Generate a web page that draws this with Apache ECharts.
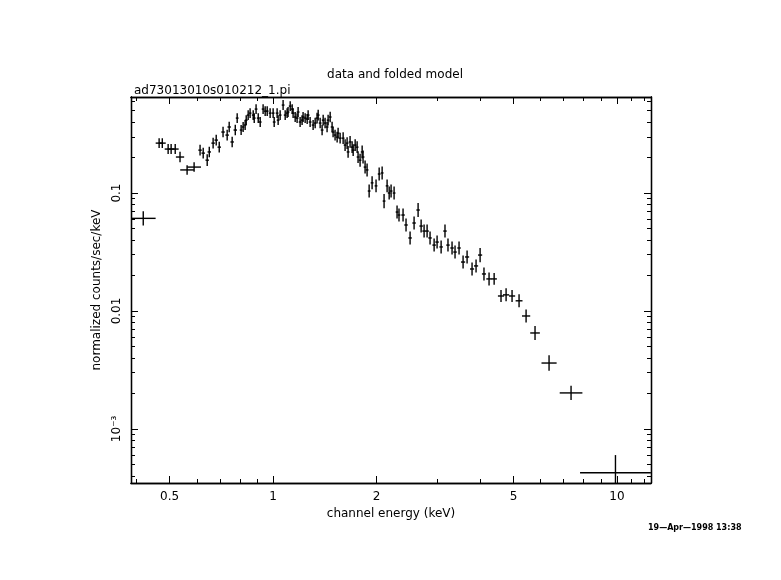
<!DOCTYPE html>
<html>
<head>
<meta charset="utf-8">
<script src="https://cdn.jsdelivr.net/npm/echarts@6/dist/echarts.min.js"></script>
<style>
  html, body { margin: 0; padding: 0; background: #fff; }
  #chart { width: 781px; height: 580px; }
</style>
</head>
<body>
<div id="chart"></div>
<script>
// channel energy (keV) and normalized counts/sec/keV
var energy = [0.419, 0.466, 0.476, 0.495, 0.505, 0.519, 0.536, 0.562, 0.589, 0.613,
  0.626, 0.643, 0.652, 0.669, 0.683, 0.697, 0.715, 0.735, 0.745, 0.760,
  0.776, 0.786, 0.807, 0.818, 0.829, 0.835, 0.846, 0.857, 0.875, 0.881,
  0.892, 0.905, 0.917, 0.935, 0.948, 0.961, 0.980, 1.000, 1.007, 1.027,
  1.034, 1.048, 1.069, 1.084, 1.098, 1.105, 1.121, 1.136, 1.143, 1.159,
  1.174, 1.182, 1.198, 1.214, 1.222, 1.239, 1.256, 1.264, 1.281, 1.307,
  1.325, 1.342, 1.352, 1.370, 1.388, 1.398, 1.416, 1.435, 1.445, 1.465,
  1.484, 1.494, 1.514, 1.535, 1.545, 1.566, 1.598, 1.619, 1.641, 1.652,
  1.674, 1.697, 1.709, 1.732, 1.755, 1.766, 1.790, 1.815, 1.826, 1.851,
  1.876, 1.902, 1.940, 1.992, 2.034, 2.075, 2.102, 2.145, 2.175, 2.203,
  2.248, 2.293, 2.323, 2.387, 2.435, 2.502, 2.570, 2.640, 2.694, 2.748,
  2.804, 2.860, 2.939, 2.998, 3.080, 3.161, 3.225, 3.314, 3.381, 3.473,
  3.568, 3.665, 3.789, 3.892, 3.999, 4.104, 4.246, 4.393, 4.600, 4.759,
  4.953, 5.191, 5.441, 5.777, 6.346, 7.353, 9.9];
var rate = [0.061, 0.265, 0.265, 0.236, 0.236, 0.236, 0.202, 0.157, 0.166, 0.231,
  0.218, 0.190, 0.223, 0.265, 0.281, 0.245, 0.329, 0.310, 0.363, 0.271,
  0.342, 0.432, 0.342, 0.363, 0.377, 0.415, 0.458, 0.476, 0.458, 0.432,
  0.515, 0.432, 0.400, 0.515, 0.495, 0.495, 0.476, 0.476, 0.400, 0.476,
  0.415, 0.458, 0.557, 0.458, 0.476, 0.486, 0.546, 0.515, 0.476, 0.441,
  0.432, 0.486, 0.400, 0.415, 0.441, 0.432, 0.424, 0.458, 0.400, 0.377,
  0.392, 0.432, 0.458, 0.392, 0.342, 0.415, 0.392, 0.363, 0.415, 0.441,
  0.363, 0.329, 0.310, 0.298, 0.322, 0.292, 0.292, 0.255, 0.265, 0.223,
  0.271, 0.245, 0.231, 0.255, 0.245, 0.202, 0.190, 0.223, 0.202, 0.166,
  0.157, 0.104, 0.122, 0.115, 0.145, 0.148, 0.0855, 0.115, 0.100, 0.104,
  0.100, 0.0690, 0.0651, 0.0651, 0.0536, 0.0416, 0.0557, 0.0718, 0.0525, 0.0476,
  0.0476, 0.0416, 0.0362, 0.0384, 0.0349, 0.0476, 0.0362, 0.0342, 0.0316, 0.0342,
  0.0260, 0.0287, 0.0227, 0.0241, 0.0298, 0.0206, 0.0187, 0.0187, 0.0134, 0.0137,
  0.0134, 0.0122, 0.00907, 0.00651, 0.00362, 0.00202, 0.000425];
// half widths of the bars, in decades
var xErrDex = [0.036, 0.010, 0.010, 0.010, 0.010, 0.010, 0.012, 0.020, 0.020, 0.005,
  0.005, 0.005, 0.005, 0.005, 0.005, 0.005, 0.005, 0.005, 0.005, 0.005,
  0.005, 0.004, 0.004, 0.004, 0.004, 0.004, 0.004, 0.004, 0.004, 0.004,
  0.004, 0.004, 0.004, 0.004, 0.004, 0.004, 0.004, 0.004, 0.004, 0.004,
  0.004, 0.004, 0.004, 0.004, 0.004, 0.004, 0.004, 0.004, 0.004, 0.004,
  0.004, 0.004, 0.004, 0.004, 0.004, 0.004, 0.004, 0.004, 0.004, 0.004,
  0.004, 0.004, 0.004, 0.004, 0.004, 0.004, 0.004, 0.004, 0.004, 0.004,
  0.004, 0.004, 0.004, 0.004, 0.004, 0.004, 0.004, 0.004, 0.004, 0.004,
  0.004, 0.004, 0.004, 0.004, 0.004, 0.004, 0.004, 0.004, 0.004, 0.004,
  0.004, 0.004, 0.004, 0.004, 0.004, 0.004, 0.004, 0.004, 0.004, 0.004,
  0.004, 0.004, 0.004, 0.005, 0.005, 0.005, 0.005, 0.005, 0.005, 0.005,
  0.005, 0.005, 0.005, 0.005, 0.005, 0.005, 0.005, 0.005, 0.005, 0.005,
  0.006, 0.006, 0.006, 0.006, 0.006, 0.006, 0.008, 0.008, 0.009, 0.009,
  0.009, 0.010, 0.012, 0.014, 0.022, 0.033, 0.103];
var yErrDex = [0.060, 0.042, 0.042, 0.042, 0.042, 0.042, 0.045, 0.040, 0.040, 0.045,
  0.045, 0.050, 0.045, 0.045, 0.045, 0.045, 0.045, 0.045, 0.045, 0.045,
  0.045, 0.042, 0.042, 0.042, 0.042, 0.042, 0.042, 0.042, 0.042, 0.042,
  0.042, 0.042, 0.042, 0.042, 0.042, 0.042, 0.042, 0.042, 0.042, 0.042,
  0.042, 0.042, 0.042, 0.042, 0.042, 0.042, 0.042, 0.042, 0.042, 0.042,
  0.042, 0.042, 0.042, 0.042, 0.042, 0.042, 0.042, 0.042, 0.042, 0.042,
  0.045, 0.045, 0.045, 0.045, 0.045, 0.045, 0.045, 0.045, 0.045, 0.045,
  0.045, 0.045, 0.045, 0.045, 0.045, 0.045, 0.050, 0.050, 0.050, 0.050,
  0.050, 0.050, 0.050, 0.050, 0.050, 0.050, 0.055, 0.055, 0.055, 0.055,
  0.055, 0.055, 0.055, 0.055, 0.055, 0.055, 0.060, 0.055, 0.055, 0.055,
  0.055, 0.055, 0.055, 0.055, 0.055, 0.055, 0.055, 0.060, 0.055, 0.055,
  0.055, 0.055, 0.055, 0.055, 0.055, 0.055, 0.055, 0.055, 0.055, 0.055,
  0.055, 0.055, 0.055, 0.055, 0.060, 0.055, 0.055, 0.050, 0.050, 0.055,
  0.050, 0.055, 0.055, 0.060, 0.065, 0.060, 0.150];

var xMajor = [0.5, 1, 2, 5, 10];
var xMinor = [0.4, 0.6, 0.7, 0.8, 0.9, 3, 4, 6, 7, 8, 9, 11, 12];
var yMajor = [0.001, 0.01, 0.1];
var yLabels = ['10\u207B\u00B3', '0.01', '0.1'];
var yMinor = [0.0004, 0.0005, 0.0006, 0.0007, 0.0008, 0.0009,
  0.002, 0.003, 0.004, 0.005, 0.006, 0.007, 0.008, 0.009,
  0.02, 0.03, 0.04, 0.05, 0.06, 0.07, 0.08, 0.09, 0.2, 0.3, 0.4, 0.5, 0.6];

var lg = Math.log10;
var FONT = 'DejaVu Sans';

var points = energy.map(function (e, i) {
    return [lg(e), lg(rate[i]), xErrDex[i], yErrDex[i]];
});

function axisPair(dim, pos, values, len, showLabel, labels) {
    var ax = {
        type: 'value', position: pos,
        min: dim === 'x' ? lg(0.386) : lg(0.000348),
        max: dim === 'x' ? lg(12.56) : lg(0.652),
        splitLine: { show: false },
        axisLine: { show: true, onZero: false, lineStyle: { color: '#000', width: 1.3 } },
        axisTick: { show: true, inside: true, length: len, customValues: values.map(lg),
            lineStyle: { color: '#000', width: 1 } },
        axisLabel: { show: showLabel, customValues: values.map(lg), color: '#000',
            fontFamily: FONT, fontSize: 12, margin: 8,
            formatter: function (v) {
                var k = values.map(lg).findIndex(function (u) { return Math.abs(u - v) < 1e-6; });
                return labels ? labels[k] : String(values[k]);
            } }
    };
    if (dim === 'y' && showLabel) ax.axisLabel.rotate = 90;
    return ax;
}

var chart = echarts.init(document.getElementById('chart'));
chart.setOption({
    backgroundColor: '#fff',
    animation: false,
    grid: { left: 131, right: 130, top: 97, bottom: 97 },
    title: [
        { text: 'data and folded model', left: 390, top: 64, textAlign: 'center',
          textStyle: { fontFamily: FONT, fontSize: 12, fontWeight: 'normal', color: '#000' } },
        { text: 'ad73013010s010212_1.pi', left: 129, top: 80,
          textStyle: { fontFamily: FONT, fontSize: 12, fontWeight: 'normal', color: '#000' } },
        { text: '19\u2014Apr\u20141998 13:38', left: 643, top: 519,
          textStyle: { fontFamily: FONT, fontSize: 8, fontWeight: 'bold', color: '#000' } }
    ],
    xAxis: [
        Object.assign(axisPair('x', 'bottom', xMajor, 7, true), {
            name: 'channel energy (keV)', nameLocation: 'middle', nameGap: 22,
            nameTextStyle: { fontFamily: FONT, fontSize: 12, color: '#000' } }),
        axisPair('x', 'bottom', xMinor, 4, false),
        axisPair('x', 'top', xMajor, 7, false),
        axisPair('x', 'top', xMinor, 4, false)
    ],
    yAxis: [
        Object.assign(axisPair('y', 'left', yMajor, 7, true, yLabels), {
            name: 'normalized counts/sec/keV', nameLocation: 'middle', nameGap: 28,
            nameTextStyle: { fontFamily: FONT, fontSize: 12, color: '#000' } }),
        axisPair('y', 'left', yMinor, 4, false),
        axisPair('y', 'right', yMajor, 7, false),
        axisPair('y', 'right', yMinor, 4, false)
    ],
    series: [{
        type: 'custom',
        clip: true,
        data: points,
        renderItem: function (params, api) {
            var x = api.value(0), y = api.value(1), ex = api.value(2), ey = api.value(3);
            var l = api.coord([x - ex, y]), r = api.coord([x + ex, y]);
            var t = api.coord([x, y + ey]), b = api.coord([x, y - ey]);
            var st = { stroke: '#000', lineWidth: 1.4 };
            return {
                type: 'group',
                children: [
                    { type: 'line', shape: { x1: l[0], y1: l[1], x2: r[0], y2: r[1] }, style: st },
                    { type: 'line', shape: { x1: t[0], y1: t[1], x2: b[0], y2: b[1] }, style: st }
                ]
            };
        }
    }]
});
</script>
</body>
</html>
